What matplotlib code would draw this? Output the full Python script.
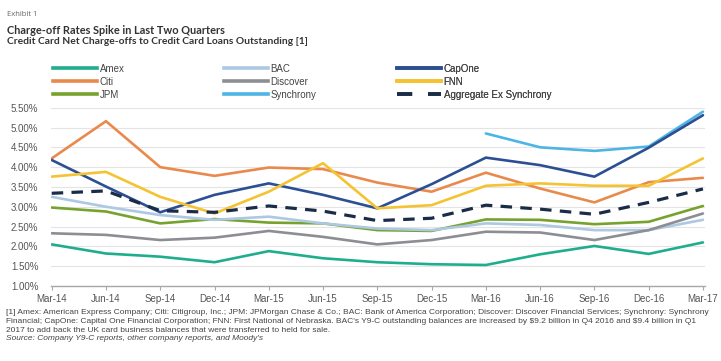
import numpy as np
import matplotlib
matplotlib.use("Agg")
import matplotlib.pyplot as plt
from matplotlib.lines import Line2D

quarters = ["Mar-14", "Jun-14", "Sep-14", "Dec-14", "Mar-15", "Jun-15", "Sep-15",
            "Dec-15", "Mar-16", "Jun-16", "Sep-16", "Dec-16", "Mar-17"]

amex      = [2.05, 1.82, 1.74, 1.60, 1.88, 1.70, 1.60, 1.55, 1.53, 1.80, 2.01, 1.81, 2.10]
citi      = [4.22, 5.16, 4.00, 3.78, 3.99, 3.95, 3.61, 3.38, 3.86, 3.46, 3.11, 3.62, 3.73]
jpm       = [2.98, 2.88, 2.58, 2.69, 2.60, 2.58, 2.41, 2.39, 2.68, 2.67, 2.56, 2.62, 3.02]
bac       = [3.25, 3.00, 2.79, 2.67, 2.75, 2.58, 2.45, 2.41, 2.58, 2.54, 2.41, 2.41, 2.67]
discover  = [2.33, 2.29, 2.16, 2.22, 2.39, 2.24, 2.05, 2.16, 2.37, 2.35, 2.16, 2.41, 2.83]
synchrony = [np.nan] * 8 + [4.85, 4.50, 4.41, 4.52, 5.40]
capone    = [4.18, 3.51, 2.86, 3.30, 3.59, 3.30, 2.96, 3.57, 4.24, 4.05, 3.76, 4.49, 5.31]
fnn       = [3.76, 3.88, 3.25, 2.83, 3.38, 4.10, 2.96, 3.04, 3.53, 3.59, 3.53, 3.53, 4.22]
aggregate = [3.34, 3.40, 2.90, 2.86, 3.02, 2.89, 2.65, 2.71, 3.04, 2.94, 2.81, 3.11, 3.45]

yticks = [1.0, 1.5, 2.0, 2.5, 3.0, 3.5, 4.0, 4.5, 5.0, 5.5]

footnote = [
    "[1] Amex: American Express Company; Citi: Citigroup, Inc.; JPM: JPMorgan Chase & Co.; BAC: Bank of America Corporation; Discover: Discover Financial Services; Synchrony: Synchrony",
    "Financial; CapOne: Capital One Financial Corporation; FNN: First National of Nebraska. BAC's Y9-C outstanding balances are increased by \\$9.2 billion in Q4 2016 and \\$9.4 billion in Q1",
    "2017 to add back the UK card business balances that were transferred to held for sale.",
]
source = "Source: Company Y9-C reports, other company reports, and Moody's"

narrow = ["Liberation Sans Narrow", "Liberation Sans", "DejaVu Sans"]
plt.rcParams["font.family"] = narrow

W, H = 721, 361
fig = plt.figure(figsize=(W / 100, H / 100), dpi=100)
ax = fig.add_axes([51 / W, 1 - 286 / H, 654 / W, (286 - 107.7) / H])

x = np.arange(len(quarters))
series = [
    ("Amex", amex, "#1fae8d"),
    ("Citi", citi, "#e98a4c"),
    ("JPM", jpm, "#76a22e"),
    ("BAC", bac, "#adc8e2"),
    ("Discover", discover, "#8d8e93"),
    ("Synchrony", synchrony, "#4db5e6"),
    ("CapOne", capone, "#2c4f94"),
    ("FNN", fnn, "#f5c332"),
]
handles = []
for name, vals, col in series:
    ax.plot(x, vals, color=col, lw=1.9, solid_capstyle="round", zorder=3)
    handles.append(Line2D([], [], color=col, lw=2.6))
agg_col = "#1b2c48"
ax.plot(x, aggregate, color=agg_col, lw=2.3, dashes=(3.6, 2.6), zorder=4)
handles.append(Line2D([], [], color=agg_col, lw=2.6, dashes=(4.2, 4.4)))
labels = [s[0] for s in series] + ["Aggregate Ex Synchrony"]

ax.set_xlim(-0.013, 12.038)
ax.set_ylim(1.0, 5.5)
ax.set_xticks(x)
ax.set_xticklabels(quarters)
ax.set_yticks(yticks)
ax.set_yticklabels([f"{v:.2f}%" for v in yticks])
ax.yaxis.grid(True, color="#e4e4e4", lw=0.8)
ax.set_axisbelow(True)
for s in ["left", "right", "top"]:
    ax.spines[s].set_visible(False)
ax.spines["bottom"].set_color("#a8a8a8")
ax.spines["bottom"].set_linewidth(1.0)
ax.tick_params(axis="x", length=3, color="#a8a8a8", labelsize=7, labelcolor="#555555", pad=3)
ax.tick_params(axis="y", length=0, labelsize=7, labelcolor="#555555", pad=9)

# legend, one block per column
col_x = [53, 224, 397]
for i in range(3):
    leg = ax.legend(handles[3 * i:3 * i + 3], labels[3 * i:3 * i + 3],
                    loc="center left", bbox_to_anchor=(col_x[i] / W, 1 - 81.7 / H),
                    bbox_transform=fig.transFigure, frameon=False, fontsize=7,
                    handlelength=4.5, handletextpad=0.3, labelspacing=0.3,
                    borderpad=0, borderaxespad=0, labelcolor="#444444")
    ax.add_artist(leg)

fig.text(7 / W, 1 - 15 / H, "Exhibit 1", fontsize=5.5, color="#666666", va="center",
         family=["Open Sans", "DejaVu Sans"])
fig.text(7 / W, 1 - 30 / H, "Charge-off Rates Spike in Last Two Quarters", fontsize=7.9,
         fontweight="bold", color="#333333", va="center", family=["Lato", "DejaVu Sans"])
fig.text(7 / W, 1 - 42 / H, "Credit Card Net Charge-offs to Credit Card Loans Outstanding [1]",
         fontsize=7.4, fontweight="bold", color="#333333", va="center",
         family=["Lato", "DejaVu Sans"])

for i, line in enumerate(footnote):
    fig.text(6 / W, 1 - (313 + 8.7 * i) / H, line, fontsize=6.05, color="#444444", va="center")
fig.text(6 / W, 1 - 339 / H, source, fontsize=6.05, color="#444444", va="center", style="italic")

fig.savefig("out.png", dpi=100)
